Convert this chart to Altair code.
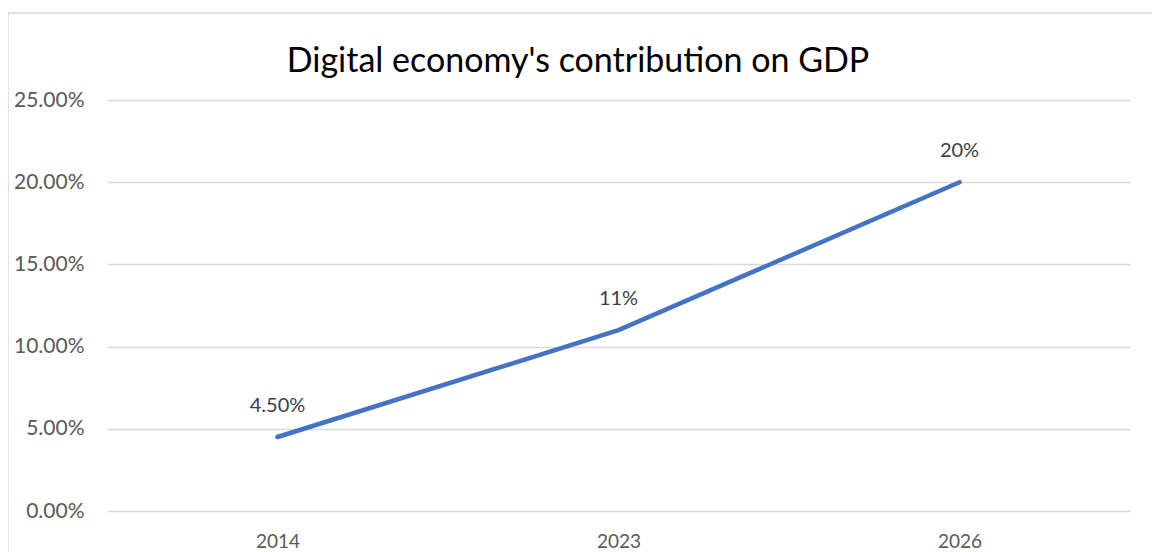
import altair as alt
import pandas as pd

years = ["2014", "2023", "2026"]
values = [0.045, 0.11, 0.20]
labels = ["4.50%", "11%", "20%"]
title_text = "Digital economy's contribution on GDP"

df = pd.DataFrame({"year": years, "value": values, "label": labels})

FONT = "Lato"

x = alt.X("year:O", sort=years, title=None,
          scale=alt.Scale(type="point", padding=0.5),
          axis=alt.Axis(labelAngle=0, ticks=False, domain=False, grid=False,
                        labelFontSize=19, labelColor="#595959", labelFont=FONT,
                        labelPadding=21))
y = alt.Y("value:Q", title=None,
          scale=alt.Scale(domain=[0, 0.25], nice=False),
          axis=alt.Axis(format=".2%", values=[0, 0.05, 0.10, 0.15, 0.20, 0.25],
                        ticks=False, domain=False, gridColor="#d9d9d9", gridWidth=1.5,
                        labelFontSize=21, labelColor="#595959", labelFont=FONT,
                        labelPadding=23))

one = pd.DataFrame({"t": [title_text]})

border = alt.Chart(one).mark_rect(
    fill=None, stroke="#d9d9d9", strokeWidth=1.5, clip=False
).encode(x=alt.value(-99), x2=alt.value(1200), y=alt.value(-87), y2=alt.value(600))

title = alt.Chart(one).mark_text(
    fontSize=34, font=FONT, color="#000000", align="center", baseline="alphabetic"
).encode(x=alt.value(471), y=alt.value(-28), text="t:N")

line = alt.Chart(df).mark_line(color="#4472C4", strokeWidth=4.5, strokeCap="round").encode(x=x, y=y)

text = alt.Chart(df).mark_text(dy=-31, fontSize=20, color="#404040", font=FONT).encode(
    x=x, y=y, text="label:N")

chart = alt.layer(border, title, line, text).properties(
    width=1023, height=411,
    autosize=alt.AutoSizeParams(type="none"),
    padding={"left": 99, "top": 92, "right": 22, "bottom": 48},
).configure_view(stroke=None)

chart.save("out.html", embed_options={"renderer": "svg", "actions": False})
